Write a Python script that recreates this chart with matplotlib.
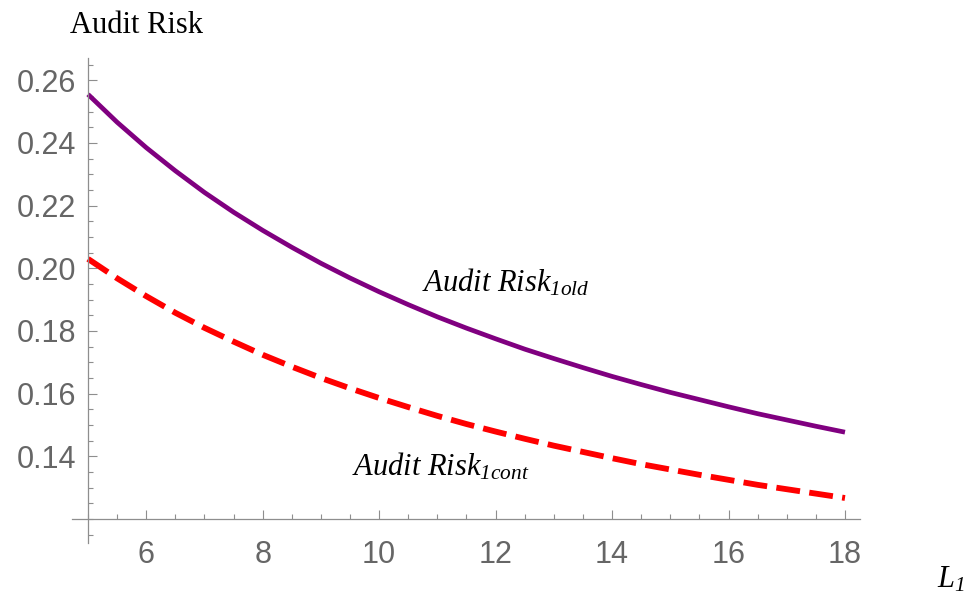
import matplotlib
matplotlib.use("Agg")
import matplotlib.pyplot as plt
from matplotlib.ticker import FixedLocator, MultipleLocator, FormatStrFormatter

# Loss level L1 and the two audit-risk curves
L1 = [5.0, 5.5, 6.0, 6.5, 7.0, 7.5, 8.0, 8.5, 9.0, 9.5, 10.0, 10.5, 11.0,
      11.5, 12.0, 12.5, 13.0, 13.5, 14.0, 14.5, 15.0, 15.5, 16.0, 16.5,
      17.0, 17.5, 18.0]
risk_old = [0.2555, 0.2466, 0.2385, 0.2311, 0.2242, 0.2179, 0.2121, 0.2067,
            0.2016, 0.1969, 0.1925, 0.1884, 0.1845, 0.1809, 0.1775, 0.1742,
            0.1712, 0.1683, 0.1655, 0.1629, 0.1604, 0.1581, 0.1558, 0.1536,
            0.1516, 0.1496, 0.1477]
risk_cont = [0.2030, 0.1968, 0.1911, 0.1858, 0.1810, 0.1766, 0.1724, 0.1686,
             0.1650, 0.1617, 0.1586, 0.1557, 0.1529, 0.1503, 0.1479, 0.1456,
             0.1434, 0.1414, 0.1394, 0.1375, 0.1358, 0.1341, 0.1325, 0.1309,
             0.1295, 0.1281, 0.1267]

x_major = [6, 8, 10, 12, 14, 16, 18]
y_major = [0.14, 0.16, 0.18, 0.20, 0.22, 0.24, 0.26]

plt.rcParams["mathtext.fontset"] = "custom"
plt.rcParams["mathtext.it"] = "Liberation Serif:italic"
plt.rcParams["mathtext.rm"] = "Liberation Serif:italic"

W, H = 969, 597
fig = plt.figure(figsize=(W / 100, H / 100), dpi=100)
ax = fig.add_axes([72 / W, 1 - 543 / H, 788 / W, 485 / H])

ax.set_xlim(4.725, 18.258)
ax.set_ylim(0.11234, 0.2671)

axis_col = "#8e8e8e"
label_col = "#666666"

for s in ("top", "right"):
    ax.spines[s].set_visible(False)
ax.spines["left"].set_position(("data", 5))
ax.spines["bottom"].set_position(("data", 0.12))
for s in ("left", "bottom"):
    ax.spines[s].set_color(axis_col)
    ax.spines[s].set_linewidth(0.9)

ax.plot(L1, risk_old, color="#800080", lw=3.4, solid_capstyle="butt",
        solid_joinstyle="round")
ax.plot(L1, risk_cont, color="#ff0000", lw=4.2, dashes=(4.1, 1.6),
        dash_capstyle="butt")

ax.xaxis.set_major_locator(FixedLocator(x_major))
ax.xaxis.set_minor_locator(MultipleLocator(0.5))
ax.yaxis.set_major_locator(FixedLocator(y_major))
ax.yaxis.set_minor_locator(MultipleLocator(0.005))
ax.yaxis.set_major_formatter(FormatStrFormatter("%.2f"))

ax.tick_params(which="both", direction="in", color=axis_col, width=0.8,
               labelcolor=label_col, labelsize=22)
ax.tick_params(which="major", length=6.5)
ax.tick_params(which="minor", length=3.6)
ax.tick_params(axis="x", which="major", pad=15)
ax.tick_params(axis="y", which="major", pad=8.5)
for lab in ax.get_xticklabels() + ax.get_yticklabels():
    lab.set_family("Liberation Sans")

ax.text(10.73, 0.1927, r"$\mathit{Audit\ Risk}_{\mathit{1old}}$",
        fontsize=22, va="baseline", ha="left", color="black")
ax.text(9.53, 0.1339, r"$\mathit{Audit\ Risk}_{\mathit{1cont}}$",
        fontsize=22, va="baseline", ha="left", color="black")

fig.text(70 / W, 1 - 33 / H, "Audit Risk", family="Liberation Serif",
         fontsize=22, va="baseline", ha="left")
fig.text(937 / W, 1 - 588 / H, r"$\mathit{L}_{\mathit{1}}$",
         fontsize=22, va="baseline", ha="left")

fig.savefig("out.png", dpi=100)
